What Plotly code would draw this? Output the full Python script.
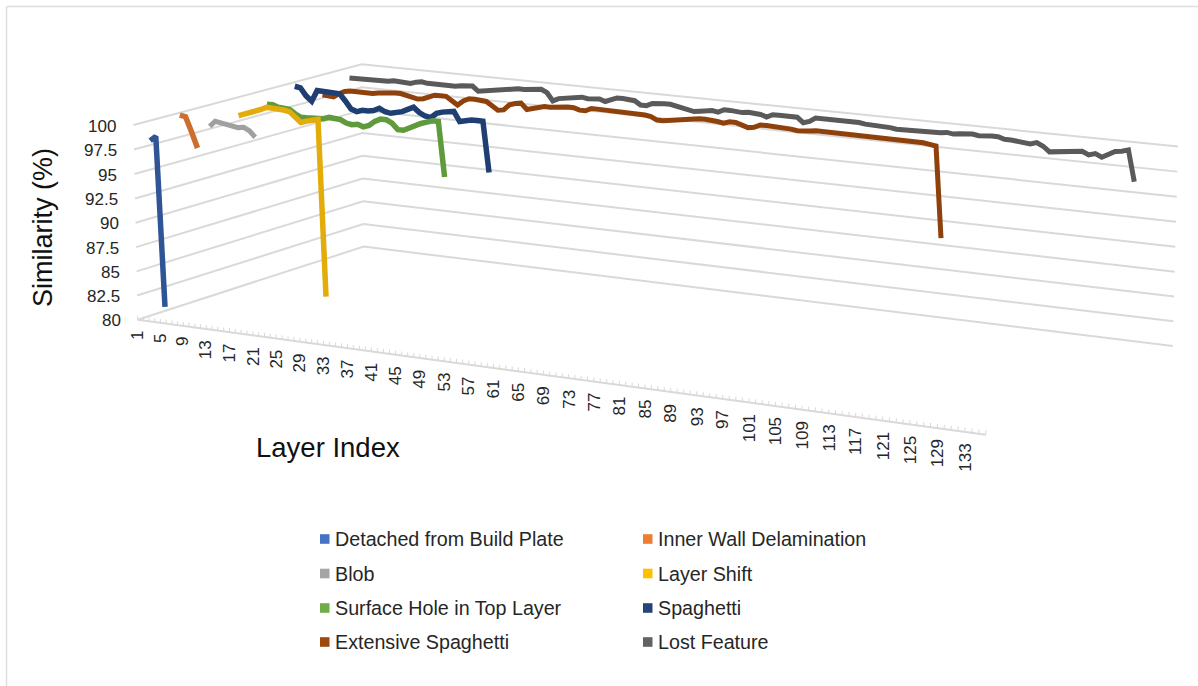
import numpy as np
import plotly.graph_objects as go

WIDTH, HEIGHT = 1198, 686

# Similarity (%) per layer for each print fault, layers counted from 1
detached = [98.0, 98.5, 81.0]
inner_wall = [99.8, 99.7, 98.2, 96.6]
blob = [97.8, 98.4, 98.3, 98.2, 98.1, 98.0, 98.1, 97.8, 97.2]
layer_shift = [98.1, 98.3, 98.5, 98.7, 99.0, 99.3, 99.3, 99.2, 99.2, 99.1, 98.5, 98.1, 98.3, 98.5, 98.6, 80.1]
surface_hole = [98.5, 98.5, 98.3, 98.2, 98.2, 97.8, 97.5, 97.5, 97.5, 97.5, 97.6, 97.8, 97.8, 97.7, 97.4, 97.3,
                97.4, 97.2, 97.4, 97.9, 98.2, 98.2, 97.9, 97.3, 97.3, 97.6, 98.0, 98.2, 98.4, 98.6, 98.6, 92.9]
spaghetti = [99.6, 99.5, 98.7, 98.2, 99.4, 99.4, 99.4, 99.4, 99.3, 98.6, 97.8, 97.6, 97.8, 97.8, 97.9, 98.2, 97.9, 97.8,
             97.9, 98.1, 98.4, 98.7, 98.2, 97.9, 97.8, 98.3, 98.5, 98.6, 98.7, 97.7, 97.9, 98.0, 98.0, 98.0, 92.7]
extensive = [97.9, 97.8, 97.8, 98.2, 98.5, 98.6, 98.6, 98.6, 98.5, 98.6, 98.7, 98.8, 98.9, 98.9, 98.9, 98.8, 98.7, 98.5,
             98.6, 98.9, 99.1, 99.1, 99.1, 98.7, 98.3, 98.8, 99.1, 99.1, 99.1, 99.0, 98.6, 98.2, 98.3, 98.9, 99.1, 99.2,
             98.6, 98.8, 99.0, 99.1, 99.1, 99.2, 99.2, 99.3, 99.3, 99.1, 99.1, 99.4, 99.4, 99.4, 99.4, 99.4, 99.4, 99.4,
             99.4, 99.4, 99.3, 99.2, 98.9, 98.9, 99.0, 99.1, 99.2, 99.4, 99.5, 99.5, 99.5, 99.5, 99.4, 99.3, 99.5, 99.5,
             99.3, 99.1, 99.2, 99.5, 99.5, 99.5, 99.5, 99.4, 99.4, 99.3, 99.3, 99.4, 99.5, 99.5, 99.5, 99.5, 99.5, 99.5,
             99.5, 99.5, 99.5, 99.5, 99.5, 99.5, 99.5, 99.5, 99.5, 99.5, 99.5, 99.4, 99.3, 99.2, 90.0]
lost_feature = [98.9, 98.9, 99.0, 99.0, 99.0, 99.0, 99.0, 99.0, 99.1, 99.1, 99.0, 99.0, 99.2, 99.3, 99.2, 99.2, 99.1, 99.1,
                99.2, 99.2, 99.3, 99.4, 99.4, 98.9, 99.0, 99.1, 99.3, 99.4, 99.5, 99.5, 99.6, 99.6, 99.7, 99.7, 99.8, 99.5,
                98.7, 99.0, 99.1, 99.2, 99.3, 99.4, 99.3, 99.4, 99.4, 99.2, 99.4, 99.7, 99.7, 99.7, 99.6, 99.2, 99.2, 99.5,
                99.6, 99.6, 99.6, 99.5, 99.4, 99.2, 99.1, 99.2, 99.3, 99.4, 99.3, 99.6, 99.6, 99.5, 99.5, 99.6, 99.6, 99.5,
                99.3, 99.6, 99.6, 99.6, 99.6, 99.6, 99.1, 99.3, 99.7, 99.7, 99.7, 99.8, 99.7, 99.7, 99.7, 99.7, 99.6, 99.6,
                99.5, 99.5, 99.5, 99.4, 99.4, 99.4, 99.4, 99.4, 99.4, 99.5, 99.5, 99.6, 99.5, 99.6, 99.7, 99.7, 99.6, 99.7,
                99.7, 99.7, 99.5, 99.5, 99.4, 99.3, 99.3, 99.5, 99.2, 98.7, 98.8, 98.8, 98.9, 99.0, 99.1, 98.8, 99.0, 98.7,
                99.1, 99.4, 99.5, 99.7, 96.6]

series_names = ["Detached from Build Plate", "Inner Wall Delamination", "Blob", "Layer Shift",
                "Surface Hole in Top Layer", "Spaghetti", "Extensive Spaghetti", "Lost Feature"]
series_values = [detached, inner_wall, blob, layer_shift, surface_hole, spaghetti, extensive, lost_feature]
legend_colors = ["#4472C4", "#ED7D31", "#A5A5A5", "#FFC000", "#70AD47", "#264478", "#9E480E", "#636363"]
line_colors = ["#2F5597", "#CC6E2E", "#A0A0A0", "#E3AC0A", "#5F9A3C", "#1F3F73", "#8F410C", "#5A5A5A"]
line_widths = [5.5, 5.5, 5, 5.5, 5.5, 5.5, 5, 5]

similarity_ticks = [80, 82.5, 85, 87.5, 90, 92.5, 95, 97.5, 100]
layer_ticks = list(range(1, 134, 4))
LAYER_SPAN = 135
SIM_MIN, SIM_MAX = 80, 100
POINT_OFFSET = -0.3  # points sit slightly ahead of their category centre
GRID = "#D9D9D9"
TEXT = "#262626"
FONT = "Liberation Sans"

# Oblique view of the unit chart box: (layer, depth, similarity) fractions and where they land on the page
view_anchors = [((0, 0, 0), (138, 320)), ((0, 0, 1), (133, 124)), ((0, 1, 0), (363, 245.7)), ((0, 1, 1), (362, 65.7)),
                ((1, 1, 0), (1173, 346)), ((1, 1, 1), (1178, 146)), ((1, 0, 0), (985, 435)), ((0.507, 0, 0), (547, 375.5))]
rows = []
for (fx, fy, fz), (u, v) in view_anchors:
    h = [fx, fy, fz, 1]
    rows.append(h + [0, 0, 0, 0] + [-u * a for a in h])
    rows.append([0, 0, 0, 0] + h + [-v * a for a in h])
VIEW = np.linalg.svd(np.array(rows, float))[2][-1].reshape(3, 4)


def project(layer, depth, value):
    """Perspective projection of a layer / series depth / similarity triple."""
    layer, value = np.asarray(layer, float), np.asarray(value, float)
    fx = (layer - 0.5) / LAYER_SPAN
    fy = np.full_like(fx, depth / 8.0)
    fz = (value - SIM_MIN) / (SIM_MAX - SIM_MIN)
    q = VIEW @ np.vstack([fx, fy, fz, np.ones_like(fx)])
    return q[0] / q[2], q[1] / q[2]


fig = go.Figure()


def add_path(xs, ys, color, width):
    fig.add_trace(go.Scatter(x=xs, y=ys, mode="lines", line=dict(color=color, width=width),
                             hoverinfo="skip", showlegend=False))


# Gridlines run along the side wall and then the back wall
for tick in similarity_ticks:
    gx0, gy0 = project([0.5], 0, [tick])
    gx1, gy1 = project([0.5, 0.5 + LAYER_SPAN], 8, [tick, tick])
    add_path([gx0[0], gx1[0], gx1[1]], [gy0[0], gy1[0], gy1[1]], GRID, 2)

# Front floor edge with a tick at every category boundary
ax_x, ax_y = project([0.5, 0.5 + LAYER_SPAN], 0, [SIM_MIN, SIM_MIN])
add_path(list(ax_x), list(ax_y), GRID, 2)
tick_x, tick_y = [], []
for b in np.arange(0.5, LAYER_SPAN + 1):
    tx, ty = project([b, b], 0, [SIM_MIN, SIM_MIN + 0.4])
    tick_x += [tx[0], tx[1], None]
    tick_y += [ty[0], ty[1], None]
add_path(tick_x, tick_y, GRID, 1)

# Series are drawn from the back of the box to the front so nearer lines cover farther ones
for i in reversed(range(len(series_values))):
    vals = series_values[i]
    sx, sy = project(np.arange(1, len(vals) + 1) + POINT_OFFSET, i + 0.5, vals)
    add_path(list(sx), list(sy), line_colors[i], line_widths[i])

annotations = []
for tick in similarity_ticks:
    ax, ay = project([0.5], 0, [tick])
    annotations.append(dict(x=ax[0] - 15, y=ay[0] + 1, xref="x", yref="y", text=f"{tick:g}", showarrow=False,
                            xanchor="right", yanchor="middle", font=dict(family=FONT, size=17, color=TEXT)))
for layer in layer_ticks:
    ax, ay = project([layer], 0, [SIM_MIN])
    annotations.append(dict(x=ax[0] - 3, y=ay[0] + 9, xref="x", yref="y", text=str(layer), showarrow=False,
                            textangle=-90, xanchor="center", yanchor="top", font=dict(family=FONT, size=17, color=TEXT)))
annotations.append(dict(x=43, y=228, xref="x", yref="y", text="Similarity (%)", showarrow=False, textangle=-90,
                        xanchor="center", yanchor="middle", font=dict(family=FONT, size=27, color="#111111")))
annotations.append(dict(x=328, y=447, xref="x", yref="y", text="Layer Index", showarrow=False,
                        xanchor="center", yanchor="middle", font=dict(family=FONT, size=27.5, color="#111111")))

# Two-column legend with square swatches
legend_rows = [539, 573.5, 608, 642]
legend_cols = [320, 643]
shapes = [dict(type="line", x0=6.5, y0=6.5, x1=WIDTH, y1=6.5, line=dict(color="#DDDDDD", width=1.5)),
          dict(type="line", x0=6.5, y0=6.5, x1=6.5, y1=HEIGHT, line=dict(color="#DDDDDD", width=1.5))]
for i, name in enumerate(series_names):
    lx, ly = legend_cols[i % 2], legend_rows[i // 2]
    shapes.append(dict(type="rect", x0=lx, x1=lx + 9.5, y0=ly - 4.8, y1=ly + 4.8,
                       fillcolor=legend_colors[i], line=dict(width=0)))
    annotations.append(dict(x=lx + 13, y=ly, xref="x", yref="y", text=name, showarrow=False, xanchor="left",
                            yanchor="middle", font=dict(family=FONT, size=19.7, color=TEXT)))

fig.update_layout(width=WIDTH, height=HEIGHT, margin=dict(l=0, r=0, t=0, b=0), paper_bgcolor="white",
                  plot_bgcolor="white", showlegend=False, annotations=annotations, shapes=shapes,
                  xaxis=dict(range=[0, WIDTH], visible=False, fixedrange=True),
                  yaxis=dict(range=[HEIGHT, 0], visible=False, fixedrange=True))
fig.write_html("out.html", config=dict(displayModeBar=False))
